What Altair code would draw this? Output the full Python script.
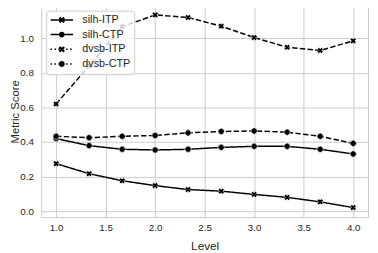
import altair as alt
import pandas as pd
import math

levels = [1.0, 1.333, 1.667, 2.0, 2.333, 2.667, 3.0, 3.333, 3.667, 4.0]
silh_itp = [0.275, 0.217, 0.176, 0.148, 0.125, 0.116, 0.097, 0.080, 0.054, 0.021]
silh_ctp = [0.420, 0.379, 0.358, 0.354, 0.358, 0.369, 0.375, 0.375, 0.358, 0.331]
dvsb_itp = [0.620, 0.840, 1.067, 1.135, 1.120, 1.070, 1.004, 0.948, 0.929, 0.985]
dvsb_ctp = [0.433, 0.425, 0.433, 0.438, 0.453, 0.461, 0.464, 0.457, 0.433, 0.392]

names = ["silh-ITP", "silh-CTP", "dvsb-ITP", "dvsb-CTP"]
series_values = [silh_itp, silh_ctp, dvsb_itp, dvsb_ctp]
markers = ["X", "o", "X", "o"]
x_ticks = [1.0, 1.5, 2.0, 2.5, 3.0, 3.5, 4.0]
y_ticks = [0.0, 0.2, 0.4, 0.6, 0.8, 1.0]

rows = []
for name, vals, m in zip(names, series_values, markers):
    for lv, v in zip(levels, vals):
        rows.append({"level": lv, "score": v, "series": name, "marker": m})
df = pd.DataFrame(rows)

# legend symbol paths (filled geometry only), unit = sqrt(size)/2 px = 4 px
C = 1.625
H = 0.19  # half line thickness (units)
X0, X1 = -1.25, 4.5

def rect(x0, x1, h=H):
    return f"M{x0:.3f},{-h:.3f}L{x1:.3f},{-h:.3f}L{x1:.3f},{h:.3f}L{x0:.3f},{h:.3f}Z"

def solid():
    return rect(X0, X1)

def dotted():
    s, out = X0, []
    while s < X1:
        out.append(rect(s, min(s + 0.375, X1)))
        s += 1.0
    return "".join(out)

def arm(p0, p1, n):
    pts = [(p0[0] - n[0], p0[1] - n[1]), (p1[0] - n[0], p1[1] - n[1]),
           (p1[0] + n[0], p1[1] + n[1]), (p0[0] + n[0], p0[1] + n[1])]
    return "M" + "L".join(f"{x:.3f},{y:.3f}" for x, y in pts) + "Z"

def xmark(a=0.6, w=0.28):
    k = w / math.sqrt(2)
    return (arm((C - a, -a), (C + a, a), (-k, k)) +
            arm((C - a, a), (C + a, -a), (k, k)))

def omark(r=0.75):
    return f"M{C+r},0A{r},{r} 0 1,1 {C-r},0A{r},{r} 0 1,1 {C+r},0Z"

legend_paths = [solid() + xmark(), solid() + omark(), dotted() + xmark(), dotted() + omark()]

xenc = alt.X("level:Q",
             scale=alt.Scale(domain=[0.85, 4.15], nice=False, zero=False),
             axis=alt.Axis(values=x_ticks, format=".1f", title="Level",
                           labelPadding=6, titlePadding=8))
yenc = alt.Y("score:Q",
             scale=alt.Scale(domain=[-0.034, 1.188], nice=False, zero=False),
             axis=alt.Axis(values=y_ticks, format=".1f", title="Metric Score",
                           labelPadding=8, titleX=-32, titleBaseline="top",
                           titleFontSize=11.5))

base = alt.Chart(df)

lines = base.mark_line(color="black", strokeWidth=1.5).encode(
    x=xenc, y=yenc, detail="series:N",
    strokeDash=alt.StrokeDash("series:N",
                              scale=alt.Scale(domain=names, range=[[1, 0], [1, 0], [5.5, 2.4], [5.5, 2.4]]),
                              legend=None),
)

points = base.mark_point(filled=True, fill="black", stroke="white", strokeWidth=0.6,
                         opacity=1, angle=45, size=40).encode(
    x=xenc, y=yenc,
    shape=alt.Shape("marker:N", scale=alt.Scale(domain=["X", "o"], range=["cross", "circle"]),
                    legend=None),
)

legend_layer = base.transform_filter("false").mark_point(
    filled=True, fill="black", size=64, opacity=1
).encode(
    x=xenc, y=yenc,
    shape=alt.Shape("series:N",
                    scale=alt.Scale(domain=names, range=legend_paths),
                    legend=alt.Legend(title=None, orient="top-left", offset=5,
                                      fillColor="rgba(255,255,255,0.8)", strokeColor="#cccccc",
                                      cornerRadius=3, padding=4,
                                      labelFont="Liberation Sans", labelFontSize=11,
                                      labelColor="#262626", labelOffset=22,
                                      symbolSize=64, symbolFillColor="black",
                                      symbolOpacity=1, rowPadding=2)),
)

chart = alt.layer(lines, points, legend_layer).resolve_scale(shape="independent").properties(
    width=334, height=216,
    autosize=alt.AutoSizeParams(type="none"),
    padding={"left": 34, "top": -5, "right": 2, "bottom": 33},
).configure_axis(
    labelFont="Liberation Sans", labelFontSize=10, labelColor="#262626",
    titleFont="Liberation Sans", titleFontSize=12, titleColor="#262626", titleFontWeight="normal",
    gridColor="#cccccc", gridWidth=1, domain=False, ticks=False,
).configure_view(stroke="#cccccc", strokeWidth=1)

chart.save("out.html", embed_options={"renderer": "svg", "actions": False})
